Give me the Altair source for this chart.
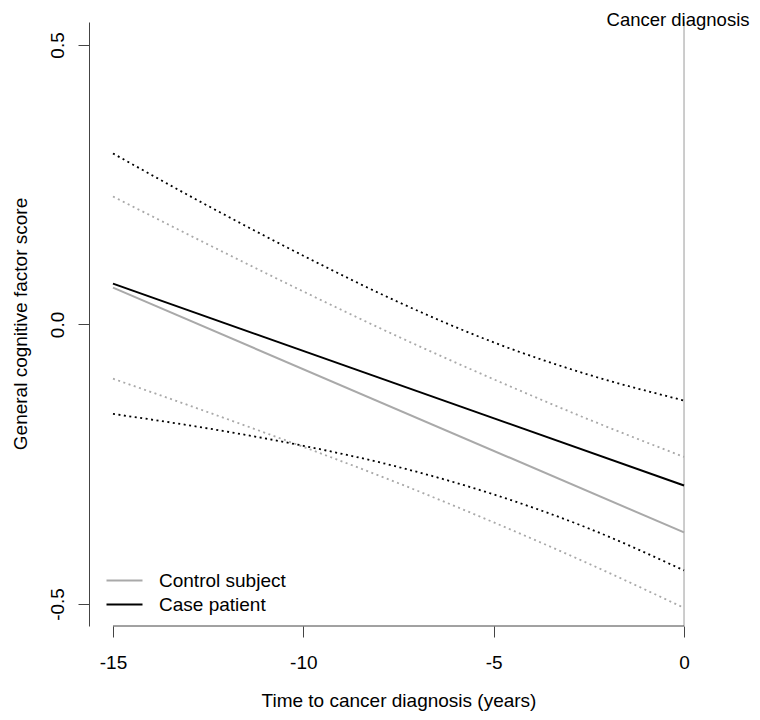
import altair as alt
import pandas as pd

# ---- data ----
years_ci = [-15, -12.5, -10, -7.5, -5, -2.5, 0]
control_upper = [0.229, 0.143, 0.059, -0.022, -0.098, -0.170, -0.237]
control_lower = [-0.097, -0.157, -0.219, -0.284, -0.354, -0.428, -0.507]
case_upper = [0.306, 0.212, 0.123, 0.040, -0.032, -0.090, -0.136]
case_lower = [-0.160, -0.186, -0.217, -0.255, -0.304, -0.365, -0.440]

years_fit = [-15, 0]
control_fit = [0.066, -0.372]
case_fit = [0.073, -0.288]

groups = ["Control subject", "Case patient"]
colors = ["#A9A9A9", "#000000"]
x_ticks = [-15, -10, -5, 0]
y_ticks = [-0.5, 0.0, 0.5]
diagnosis_year = [0]
diagnosis_label = ["Cancer diagnosis"]

# ---- tables ----
ci_rows = []
for g, up, lo in [(groups[0], control_upper, control_lower), (groups[1], case_upper, case_lower)]:
    for yr, u, l in zip(years_ci, up, lo):
        ci_rows.append({"year": yr, "value": u, "group": g, "bound": g + " upper"})
        ci_rows.append({"year": yr, "value": l, "group": g, "bound": g + " lower"})
ci_df = pd.DataFrame(ci_rows)

fit_rows = []
for g, vals in [(groups[0], control_fit), (groups[1], case_fit)]:
    for yr, v in zip(years_fit, vals):
        fit_rows.append({"year": yr, "value": v, "group": g})
fit_df = pd.DataFrame(fit_rows)

W, H = 619, 604
FONT = "Liberation Sans"
xscale = alt.Scale(domain=[-15.63, 0.63], nice=False, zero=False)
yscale = alt.Scale(domain=[-0.5394, 0.5411], nice=False, zero=False)
cscale = alt.Scale(domain=groups, range=colors)

x_axis = alt.Axis(
    values=x_ticks, format="d", labelExpr="replace(datum.label, '\u2212', '-')",
    domain=False, grid=False, tickSize=11, tickColor="#444", tickWidth=1,
    labelFontSize=19, labelColor="black", labelBaseline="alphabetic", labelPadding=31,
    labelFlush=False, labelOverlap=False, labelFont=FONT,
    title="Time to cancer diagnosis (years)", titleFontSize=19, titleFontWeight="normal",
    titleColor="black", titleBaseline="alphabetic", titleAlign="center", titleX=309.5, titleY=80,
    titleFont=FONT,
)
y_axis = alt.Axis(
    values=y_ticks, format=".1f", labelExpr="replace(datum.label, '\u2212', '-')",
    domain=True, domainColor="#444", domainWidth=1, grid=False,
    tickSize=11, tickColor="#444", tickWidth=1,
    labelFontSize=19, labelColor="black", labelAngle=270, labelAlign="center",
    labelBaseline="alphabetic", labelPadding=15, labelFlush=False, labelOverlap=False,
    labelFont=FONT,
    title="General cognitive factor score", titleFontSize=19, titleFontWeight="normal",
    titleColor="black", titleAngle=270, titleBaseline="alphabetic", titleAlign="center",
    titleX=-63, titleY=301.5, titleFont=FONT,
)

legend = alt.Legend(
    orient="none", legendX=26, legendY=549, title=None, symbolType="M-3,0H3",
    symbolSize=144, symbolStrokeWidth=2, labelFontSize=19, labelColor="black",
    labelOffset=25, padding=0, rowPadding=4, labelFont=FONT,
)

vline = alt.Chart(pd.DataFrame({"year": diagnosis_year})).mark_rule(
    color="#9a9a9a", strokeWidth=1
).encode(x=alt.X("year:Q", scale=xscale, axis=x_axis))

ci = alt.Chart(ci_df).mark_line(
    strokeWidth=1.8, strokeDash=[2, 3.5], interpolate="monotone"
).encode(
    x=alt.X("year:Q", scale=xscale, axis=x_axis),
    y=alt.Y("value:Q", scale=yscale, axis=y_axis),
    color=alt.Color("group:N", scale=cscale, legend=legend),
    detail="bound:N",
)

fit = alt.Chart(fit_df).mark_line(strokeWidth=2).encode(
    x=alt.X("year:Q", scale=xscale, axis=x_axis),
    y=alt.Y("value:Q", scale=yscale, axis=y_axis),
    color=alt.Color("group:N", scale=cscale, legend=legend),
)

xbase = alt.Chart(pd.DataFrame({"year": [x_ticks[0]], "year2": [x_ticks[-1]]})).mark_rule(
    color="#444", strokeWidth=1
).encode(
    x=alt.X("year:Q", scale=xscale, axis=x_axis),
    x2="year2:Q",
    y=alt.value(H),
)

label = alt.Chart(pd.DataFrame({"year": diagnosis_year, "label": diagnosis_label})).mark_text(
    fontSize=18.5, font=FONT, color="black", align="center", baseline="alphabetic", dx=-6
).encode(
    x=alt.X("year:Q", scale=xscale, axis=x_axis),
    y=alt.value(4),
    text="label:N",
)

chart = alt.layer(vline, ci, fit, xbase, label).properties(
    width=W, height=H,
    padding={"left": 81, "top": 14, "right": 44, "bottom": 86},
    autosize="none",
    background="white",
).configure(font=FONT).configure_view(stroke=None)

chart.save("out.html", embed_options={"renderer": "svg", "actions": False})
